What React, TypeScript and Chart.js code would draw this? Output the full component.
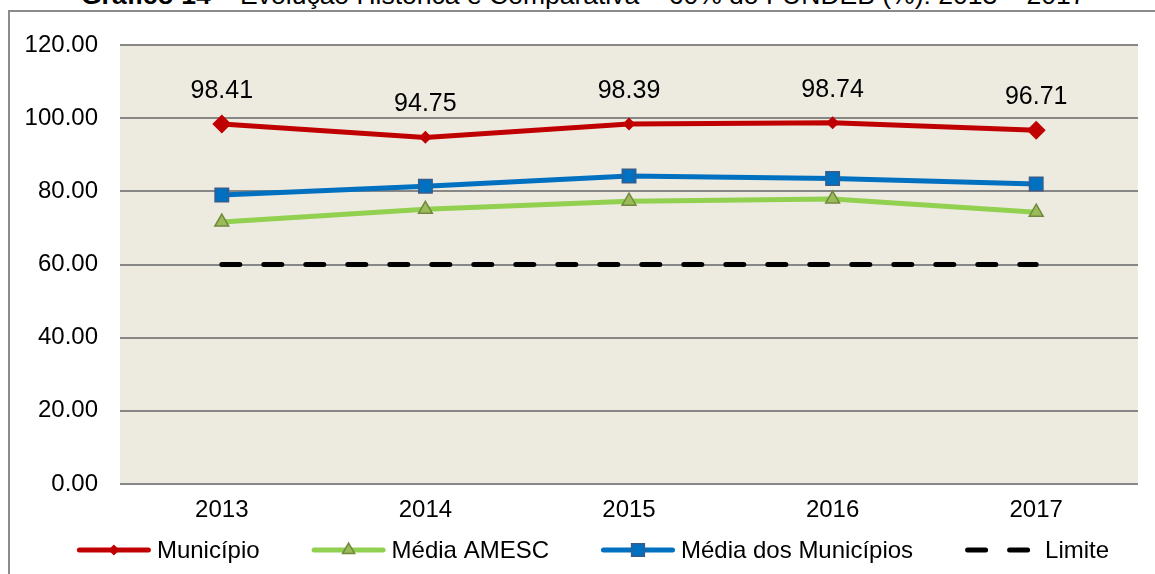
import React, { useEffect, useRef } from "react";
import { Chart, registerables } from "chart.js";

Chart.register(...registerables);

const categories = ["2013", "2014", "2015", "2016", "2017"];
const municipio = [98.41, 94.75, 98.39, 98.74, 96.71];
const mediaAmesc = [71.6, 75.1, 77.3, 77.9, 74.3];
const mediaMunicipios = [79.0, 81.4, 84.2, 83.5, 82.0];
const limite = [60, 60, 60, 60, 60];
const seriesNames = ["Município", "Média AMESC", "Média dos Municípios", "Limite"];
const yMin = 0;
const yMax = 120;
const yStep = 20;
const titleBold = "Gráfico 14";
const titleRest = " – Evolução Histórica e Comparativa – 60% do FUNDEB (%): 2013 – 2017";

const FONT = '"Liberation Sans", Arial, sans-serif';

function drawMarker(ctx: CanvasRenderingContext2D, style: string, x: number, y: number, r: number, fill: string, stroke: string, lw: number) {
  ctx.save();
  ctx.beginPath();
  if (style === "rectRot") {
    ctx.moveTo(x - r, y);
    ctx.lineTo(x, y - r);
    ctx.lineTo(x + r, y);
    ctx.lineTo(x, y + r);
    ctx.closePath();
  } else if (style === "triangle") {
    const h = r * 1.5;
    const w = r * Math.sqrt(3);
    ctx.moveTo(x, y - r);
    ctx.lineTo(x + w / 2, y - r + h);
    ctx.lineTo(x - w / 2, y - r + h);
    ctx.closePath();
  } else if (style === "rect") {
    const s = r * Math.SQRT1_2;
    ctx.rect(x - s, y - s, 2 * s, 2 * s);
  }
  ctx.fillStyle = fill;
  ctx.fill();
  if (lw > 0) {
    ctx.strokeStyle = stroke;
    ctx.lineWidth = lw;
    ctx.stroke();
  }
  ctx.restore();
}

const plotBgPlugin = {
  id: "plotBg",
  beforeDraw(chart: any) {
    const { ctx, chartArea } = chart;
    ctx.save();
    ctx.fillStyle = "#EDEAE0";
    ctx.fillRect(chartArea.left, chartArea.top, chartArea.right - chartArea.left, chartArea.bottom - chartArea.top);
    ctx.restore();
  },
};

const dataLabelPlugin = {
  id: "dataLabels",
  afterDatasetsDraw(chart: any) {
    const ctx = chart.ctx;
    const meta = chart.getDatasetMeta(0);
    const ds = chart.data.datasets[0];
    ctx.save();
    ctx.font = "25px " + FONT;
    ctx.fillStyle = "#000";
    ctx.textAlign = "center";
    ctx.textBaseline = "alphabetic";
    meta.data.forEach((pt: any, i: number) => {
      ctx.fillText((ds.data[i] as number).toFixed(2), pt.x, pt.y - 26);
    });
    ctx.restore();
  },
};

const legendPlugin = {
  id: "customLegend",
  afterDraw(chart: any) {
    const ctx: CanvasRenderingContext2D = chart.ctx;
    ctx.save();
    ctx.font = "24px " + FONT;
    const lineLen = 74;
    const gapText = 6;
    const gapItem = 52;
    const dss = chart.data.datasets;
    const widths = dss.map((d: any) => ctx.measureText(d.label).width);
    const total = widths.reduce((a: number, w: number) => a + lineLen + gapText + w, 0) + gapItem * (dss.length - 1);
    let x = 593 - total / 2;
    const y = 550;
    dss.forEach((d: any, i: number) => {
      ctx.save();
      ctx.strokeStyle = d.borderColor;
      ctx.lineWidth = 5;
      ctx.lineCap = "round";
      if (d.borderDash && d.borderDash.length) ctx.setLineDash(d.borderDash);
      ctx.beginPath();
      ctx.moveTo(x + 2.5, y);
      ctx.lineTo(x + lineLen - 2.5, y);
      ctx.stroke();
      ctx.restore();
      if (d.pointStyle && d.legendMarkerRadius) {
        drawMarker(ctx, d.pointStyle, x + lineLen / 2, y, d.legendMarkerRadius, d.pointBackgroundColor, d.pointBorderColor, d.pointBorderWidth || 0);
      }
      ctx.fillStyle = "#000";
      ctx.textAlign = "left";
      ctx.textBaseline = "middle";
      ctx.fillText(d.label, x + lineLen + gapText, y + 1);
      x += lineLen + gapText + widths[i] + gapItem;
    });
    ctx.restore();
  },
};

export default function App() {
  const canvasRef = useRef<HTMLCanvasElement | null>(null);

  useEffect(() => {
    if (!canvasRef.current) return;
    const chart = new Chart(canvasRef.current, {
      type: "line",
      data: {
        labels: categories,
        datasets: [
          {
            label: seriesNames[0],
            data: municipio,
            borderColor: "#C00000",
            backgroundColor: "#C00000",
            borderWidth: 5,
            pointStyle: "rectRot",
            pointRadius: [9.5, 6.5, 6.5, 6.5, 9.5],
            pointBackgroundColor: "#C00000",
            pointBorderColor: "#C00000",
            pointBorderWidth: 0,
            tension: 0,
            legendMarkerRadius: 5.5,
          } as any,
          {
            label: seriesNames[1],
            data: mediaAmesc,
            borderColor: "#92D050",
            backgroundColor: "#92D050",
            borderWidth: 5,
            pointStyle: "triangle",
            pointRadius: 8,
            pointBackgroundColor: "#9BBB59",
            pointBorderColor: "#71893F",
            pointBorderWidth: 1.5,
            tension: 0,
            legendMarkerRadius: 7,
          } as any,
          {
            label: seriesNames[2],
            data: mediaMunicipios,
            borderColor: "#0070C0",
            backgroundColor: "#0070C0",
            borderWidth: 5,
            pointStyle: "rect",
            pointRadius: 9.5,
            pointBackgroundColor: "#0070C0",
            pointBorderColor: "#385D8A",
            pointBorderWidth: 1.5,
            tension: 0,
            legendMarkerRadius: 9,
          } as any,
          {
            label: seriesNames[3],
            data: limite,
            borderColor: "#000000",
            backgroundColor: "#000000",
            borderWidth: 5,
            borderDash: [18, 24],
            borderCapStyle: "round",
            pointRadius: 0,
            pointStyle: false,
            tension: 0,
          } as any,
        ],
      },
      options: {
        responsive: false,
        animation: false,
        events: [],
        layout: { padding: { top: 45, right: 17, left: 0, bottom: 40 } },
        plugins: {
          legend: { display: false },
          title: { display: false },
          tooltip: { enabled: false },
        },
        scales: {
          x: {
            type: "category",
            offset: true,
            grid: { display: false, drawTicks: false },
            border: { display: false },
            ticks: { color: "#000", font: { family: FONT, size: 24 }, padding: 12, maxRotation: 0 },
            afterFit(scale: any) {
              scale.height = 50;
            },
          },
          y: {
            min: yMin,
            max: yMax,
            grid: { color: "#878787", lineWidth: 2, drawTicks: false },
            border: { display: false },
            ticks: {
              stepSize: yStep,
              color: "#000",
              font: { family: FONT, size: 24 },
              padding: 22,
              callback: (v: any) => Number(v).toFixed(2),
            },
            afterFit(scale: any) {
              scale.width = 120;
            },
          },
        },
      },
      plugins: [plotBgPlugin, dataLabelPlugin, legendPlugin],
    });
    return () => chart.destroy();
  }, []);

  return (
    <div style={{ position: "fixed", left: 0, top: 0, width: 1155, height: 574, overflow: "hidden", background: "#fff" }}>
      <div
        style={{
          position: "absolute",
          left: 81,
          top: -18,
          whiteSpace: "nowrap",
          fontFamily: FONT,
          fontSize: 26.5,
          lineHeight: "26.5px",
          color: "#000",
        }}
      >
        <b>{titleBold}</b>
        {titleRest}
      </div>
      <div
        style={{
          position: "absolute",
          left: 8,
          top: 10,
          width: 1300,
          height: 800,
          border: "2px solid #8b8b8b",
          boxSizing: "border-box",
        }}
      />
      <canvas ref={canvasRef} width={1155} height={574} style={{ position: "absolute", left: 0, top: 0, width: 1155, height: 574 }} />
    </div>
  );
}
